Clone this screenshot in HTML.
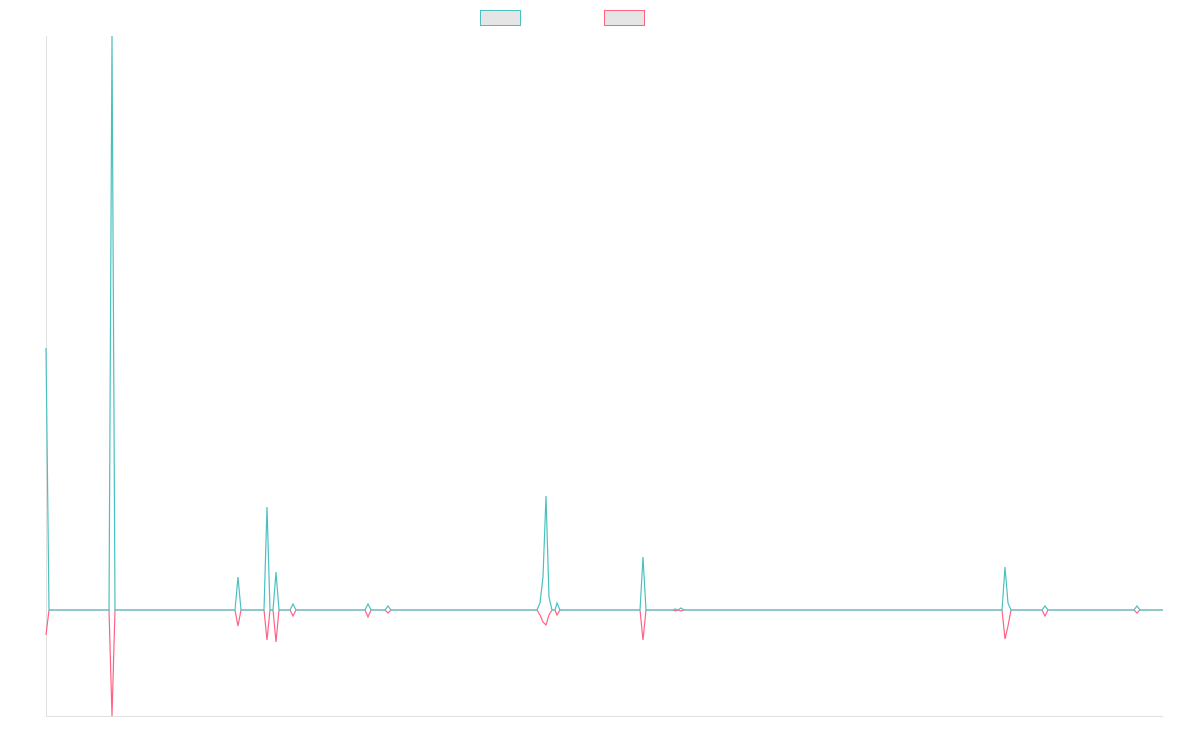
<!DOCTYPE html>
<html><head><style>body{margin:0;background:#fff}svg{display:block}</style></head><body>
<svg width="1200" height="750" xmlns="http://www.w3.org/2000/svg">
<rect x="480.5" y="10.5" width="40" height="15" fill="#e5e5e5" stroke="#4bc0c0" stroke-width="1"/>
<rect x="604.5" y="10.5" width="40" height="15" fill="#e5e5e5" stroke="#ff6384" stroke-width="1"/>
<line x1="46.5" y1="36" x2="46.5" y2="716" stroke="#e0e0e0"/>
<line x1="46" y1="716.5" x2="1163" y2="716.5" stroke="#e0e0e0"/>
<polyline fill="none" stroke="#ff6384" stroke-width="1.2" points="46,635 49,610 109,610 112,716 115,610 235,610 238,626 241,610 264,610 267,640 270,610 273,610 276,642 279,610 290,610 293,616 296,610 365,610 368,617 371,610 385,610 388,613 391,610 537,610 540,615 543,622 546,625 549,615 552,610 555,610 557,615 560,610 640,610 643,640 646,610 673,610 675,611 678,610 681,611 684,610 1002,610 1005,639 1008,626 1011,610 1042,610 1045,616 1048,610 1134,610 1137,613 1140,610 1163,610"/>
<polyline fill="none" stroke="#4bc0c0" stroke-width="1.2" points="46,348 49,610 109,610 112,36 115,610 235,610 238,577 241,610 264,610 267,507 270,610 273,610 276,572 279,610 290,610 293,604 296,610 365,610 368,604 371,610 385,610 388,606 391,610 537,610 540,603 543,577 546,496 549,597 552,610 555,610 557,603 560,610 640,610 643,557 646,610 673,610 675,609 678,610 681,608 684,610 1002,610 1005,567 1008,603 1011,610 1042,610 1045,606 1048,610 1134,610 1137,606 1140,610 1163,610"/>
</svg>
</body></html>
